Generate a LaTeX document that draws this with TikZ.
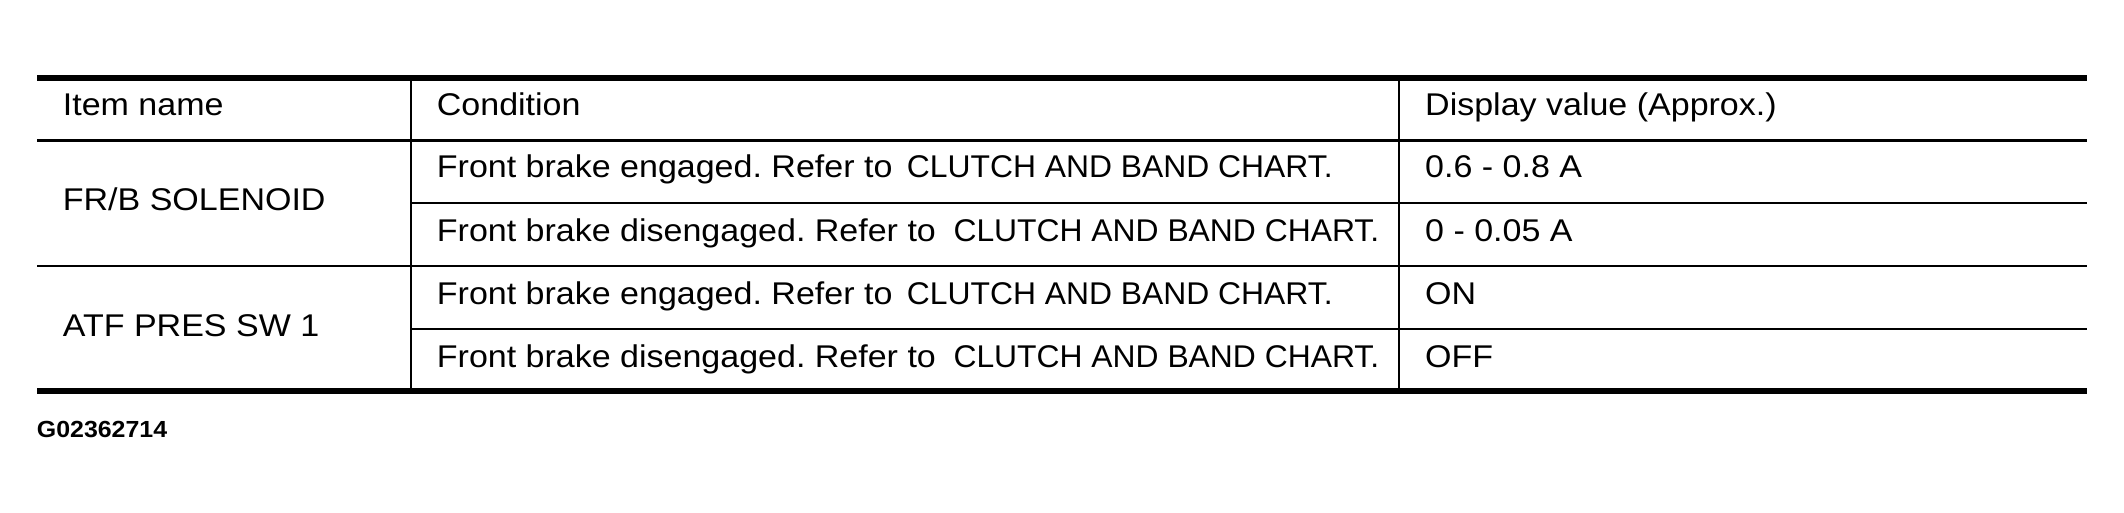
\documentclass[tikz,border=0pt]{standalone}
\usepackage{fontspec}
\setmainfont{Liberation Sans}[FakeStretch=1.083]
\newfontfamily\chartfont{Liberation Sans}[FakeStretch=1.014]
\newfontfamily\codefont{Liberation Sans}[FakeStretch=1.07]
\frenchspacing
\begin{document}
\begin{tikzpicture}[x=1pt,y=-1pt,
  cell/.style={anchor=base west,inner sep=0pt,font=\fontsize{31.4}{36}\selectfont},
  chart/.style={anchor=base west,inner sep=0pt,font=\chartfont\fontsize{31.4}{36}\selectfont},
  code/.style={anchor=base west,inner sep=0pt,font=\codefont\bfseries\fontsize{23.3}{28}\selectfont},
  thickrule/.style={line width=6pt},
  headrule/.style={line width=2.7pt},
  thinrule/.style={line width=1.8pt},
  colrule/.style={line width=1.8pt}]
\useasboundingbox (0,0) rectangle (2124,513);
% coordinates of the table frame
\coordinate (tl) at (37,78);
\coordinate (tr) at (2087,78);
\coordinate (bl) at (37,391);
\coordinate (br) at (2087,391);
% rules
\draw[thickrule] (tl) -- (tr);
\draw[thickrule] (bl) -- (br);
\draw[headrule] (37,140.3) -- (2087,140.3);
\draw[thinrule] (411,203) -- (2087,203);
\draw[thinrule] (37,266) -- (2087,266);
\draw[thinrule] (411,328.7) -- (2087,328.7);
\draw[colrule] (411,78) -- (411,391);
\draw[colrule] (1399,78) -- (1399,391);
% header
\node[cell] (h1) at (62.7,116) {Item name};
\node[cell] (h2) at (436.7,116) {Condition};
\node[cell] (h3) at (1425,116) {Display value (Approx.)};
% item names
\node[cell] (i1) at (62.7,210.7) {FR/B SOLENOID};
\node[cell] (i2) at (62.7,336.7) {ATF PRES SW 1};
% conditions
\node[cell] (c1) at (436.7,177.3) {Front brake engaged. Refer to};
\node[chart] (k1) at (906.7,177.3) {CLUTCH AND BAND CHART.};
\node[cell] (c2) at (436.7,241.7) {Front brake disengaged. Refer to};
\node[chart] (k2) at (953.3,241.7) {CLUTCH AND BAND CHART.};
\node[cell] (c3) at (436.7,304.3) {Front brake engaged. Refer to};
\node[chart] (k3) at (906.7,304.3) {CLUTCH AND BAND CHART.};
\node[cell] (c4) at (436.7,367.3) {Front brake disengaged. Refer to};
\node[chart] (k4) at (953.3,367.3) {CLUTCH AND BAND CHART.};
% values
\node[cell] (v1) at (1425,177.3) {0.6 - 0.8 A};
\node[cell] (v2) at (1425,241.7) {0 - 0.05 A};
\node[cell] (v3) at (1425,304.3) {ON};
\node[cell] (v4) at (1425,367.3) {OFF};
% figure code
\node[code] (g) at (36.7,437.3) {G02362714};
\end{tikzpicture}
\end{document}
